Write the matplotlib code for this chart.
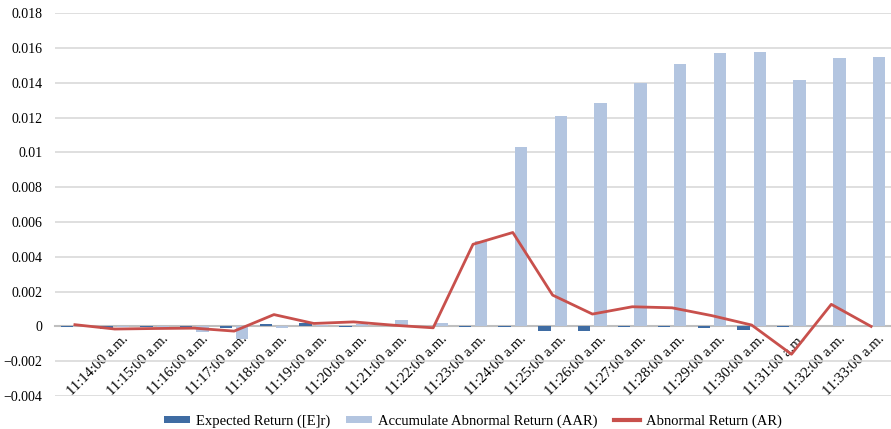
import matplotlib
matplotlib.use("Agg")
import matplotlib.pyplot as plt
import numpy as np
from matplotlib.patches import Patch
from matplotlib.lines import Line2D
import matplotlib.transforms as mtransforms

plt.rcParams['font.family'] = ['Liberation Serif', 'DejaVu Serif']

categories = ['', '11:14:00 a.m.', '11:15:00 a.m.', '11:16:00 a.m.', '11:17:00 a.m.',
              '11:18:00 a.m.', '11:19:00 a.m.', '11:20:00 a.m.', '11:21:00 a.m.',
              '11:22:00 a.m.', '11:23:00 a.m.', '11:24:00 a.m.', '11:25:00 a.m.',
              '11:26:00 a.m.', '11:27:00 a.m.', '11:28:00 a.m.', '11:29:00 a.m.',
              '11:30:00 a.m.', '11:31:00 a.m.', '11:32:00 a.m.', '11:33:00 a.m.']

expected_return = [-0.00003, -0.00012, -0.00005, -0.00005, -0.0001,
                   0.00012, 0.0002, -0.00005, 0.00005, 0.0,
                   -0.00004, -0.00002, -0.00027, -0.00027, -0.00002,
                   -0.00002, -0.0001, -0.0002, -0.00005, 0.00003, 0.0]

aar = [0.0, -0.00005, -0.00005, -0.0003, -0.00075,
       -0.0001, 0.0001, 0.00015, 0.00036, 0.0002,
       0.0049, 0.0103, 0.0121, 0.01286, 0.014,
       0.0151, 0.0157, 0.01577, 0.01418, 0.01543, 0.0155]

abnormal_return = [0.0001, -0.00015, -0.00012, -0.0001, -0.00027,
                   0.00068, 0.00017, 0.00026, 0.00007, -0.00008,
                   0.00472, 0.0054, 0.0018, 0.00071, 0.00113,
                   0.00107, 0.00062, 0.00008, -0.0016, 0.00127, 0.0]

yticks = [-0.004, -0.002, 0, 0.002, 0.004, 0.006, 0.008, 0.01,
          0.012, 0.014, 0.016, 0.018]
ytick_labels = ['\u22120.004', '\u22120.002', '0', '0.002', '0.004', '0.006',
                '0.008', '0.01', '0.012', '0.014', '0.016', '0.018']

dark_blue = '#3f6ca3'
light_blue = '#b3c5e0'
red = '#c8504c'

fig = plt.figure(figsize=(8.91, 4.29), dpi=100)
ax = fig.add_axes([55 / 891, 1 - 396 / 429, 836 / 891, (396 - 13.3) / 429])

x = np.arange(len(categories))
w = 0.31
ax.bar(x - 0.205, expected_return, width=w, color=dark_blue, zorder=3)
ax.bar(x + 0.205, aar, width=w, color=light_blue, zorder=3)
ax.plot(x, abnormal_return, color=red, linewidth=2.0, zorder=4)

ax.set_xlim(-0.5, len(categories) - 0.5)
ax.set_ylim(-0.004, 0.018)
ax.set_yticks(yticks)
ax.set_yticklabels(ytick_labels, fontsize=10)
ax.tick_params(axis='y', length=0, pad=9)
ax.yaxis.grid(True, color='#d9d9d9', linewidth=1.2, zorder=0)
ax.set_axisbelow(True)

for s in ['top', 'right', 'left']:
    ax.spines[s].set_visible(False)
ax.spines['bottom'].set_position(('data', 0))
ax.spines['bottom'].set_color('#bfbfbf')
ax.spines['bottom'].set_linewidth(1.5)
ax.spines['bottom'].set_zorder(2)

ax.set_xticks(x)
ax.set_xticklabels(categories, fontsize=10.5, rotation=45, ha='right',
                   rotation_mode='anchor')
ax.tick_params(axis='x', length=0, pad=4)
offset = mtransforms.ScaledTranslation(7 / 100, 0, fig.dpi_scale_trans)
for lbl in ax.get_xticklabels():
    lbl.set_transform(lbl.get_transform() + offset)

handles = [Patch(facecolor=dark_blue, edgecolor='none'),
           Patch(facecolor=light_blue, edgecolor='none'),
           Line2D([0], [0], color=red, linewidth=3)]
labels = ['Expected Return ([E]r)', 'Accumulate Abnormal Return (AAR)',
          'Abnormal Return (AR)']
fig.legend(handles, labels, loc='center', bbox_to_anchor=(473 / 891, 1 - 421 / 429),
           ncol=3, frameon=False, fontsize=10.5, handlelength=1.75, handleheight=0.4,
           columnspacing=1.1, handletextpad=0.45, borderpad=0, borderaxespad=0)

fig.savefig('out.png', dpi=100)
